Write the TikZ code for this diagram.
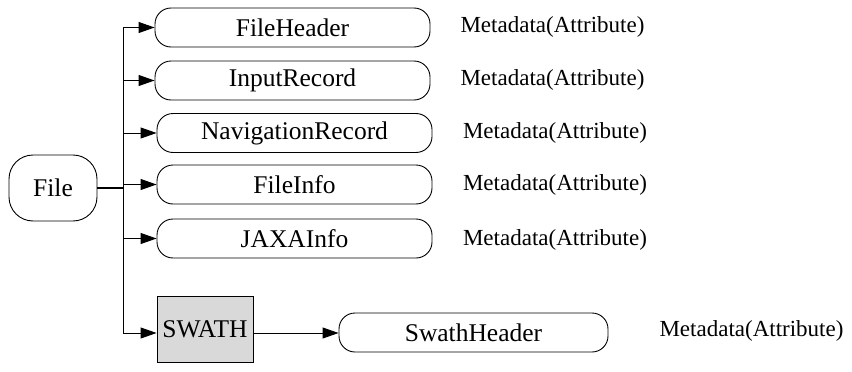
\documentclass[tikz,border=0pt]{standalone}
\usepackage{fontspec}
\setmainfont{Liberation Serif}
\usetikzlibrary{arrows.meta}
\definecolor{swgray}{HTML}{D9D9D9}
\tikzset{
  rbox/.style={draw, line width=0.9pt, rectangle, rounded corners=16pt,
    inner sep=0pt, minimum height=39pt, font=\fontsize{25.5}{30}\selectfont},
  meta/.style={inner sep=0pt, font=\fontsize{23}{27}\selectfont},
  arr/.style={line width=0.9pt, -{Triangle[length=16pt,width=11pt]}},
  ln/.style={line width=0.9pt},
}
\begin{document}
\begin{tikzpicture}[x=1pt,y=-1pt]
\useasboundingbox (0,0) rectangle (852,372);
\node[rbox, rounded corners=24pt, minimum width=88pt, minimum height=66pt] (file) at (53,188) {File};
\coordinate (t) at (123,0);
\node[rbox, minimum width=275pt] (fh) at (292.5,27.5) {FileHeader};
\node[rbox, minimum width=275pt] (ir) at (292.5,80.5) {InputRecord};
\node[rbox, minimum width=275pt] (nr) at (294.5,133) {NavigationRecord};
\node[rbox, minimum width=275pt] (fi) at (294.5,184.5) {FileInfo};
\node[rbox, minimum width=275pt] (ja) at (294.5,238.5) {JAXAInfo};
\node[draw, line width=0.9pt, fill=swgray, minimum width=96pt, minimum height=66pt, inner sep=0pt,
  font=\fontsize{25.5}{30}\selectfont] (sw) at (205,329) {SWATH};
\node[rbox, minimum width=269pt] (sh) at (473.5,332.5) {SwathHeader};
\node[meta] (m1) at (552.5,27) {Metadata(Attribute)};
\node[meta] (m2) at (552.5,80) {Metadata(Attribute)};
\node[meta] (m3) at (555,133) {Metadata(Attribute)};
\node[meta] (m4) at (555,185) {Metadata(Attribute)};
\node[meta] (m5) at (555,240) {Metadata(Attribute)};
\node[meta] (m6) at (751.5,331) {Metadata(Attribute)};
\coordinate (swin) at ([yshift=-4pt]sw.west);
\coordinate (swout) at ([yshift=-4pt]sw.east);
\draw[line width=1.8pt] (file.east) -- (file.east -| t);
\draw[ln] (fh.west -| t) -- (swin -| t);
\draw[arr] (fh.west -| t) -- (fh.west);
\draw[arr] (ir.west -| t) -- (ir.west);
\draw[arr] (nr.west -| t) -- (nr.west);
\draw[arr] (fi.west -| t) -- (fi.west);
\draw[arr] (ja.west -| t) -- (ja.west);
\draw[arr] (swin -| t) -- (swin);
\draw[arr] (swout) -- (swout -| sh.west);
\end{tikzpicture}
\end{document}
